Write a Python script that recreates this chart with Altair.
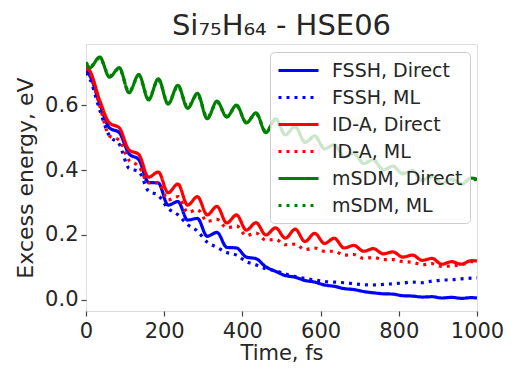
import altair as alt
import pandas as pd

time_fs = [0, 10, 35, 60, 85, 110, 135, 160, 185, 210, 235, 260, 285, 310, 335, 360,
           385, 410, 435, 460, 485, 510, 535, 560, 585, 610, 635, 660, 685, 710, 735,
           760, 785, 810, 835, 860, 885, 910, 935, 960, 985, 1000]

fssh_direct = [0.705, 0.690, 0.605, 0.530, 0.515, 0.450, 0.432, 0.362, 0.360, 0.292,
               0.303, 0.246, 0.251, 0.196, 0.208, 0.162, 0.160, 0.132, 0.127, 0.102,
               0.088, 0.075, 0.070, 0.060, 0.055, 0.046, 0.042, 0.035, 0.032, 0.026,
               0.022, 0.019, 0.018, 0.013, 0.012, 0.009, 0.010, 0.006, 0.008, 0.005,
               0.007, 0.006]
fssh_ml = [0.700, 0.680, 0.585, 0.505, 0.480, 0.405, 0.395, 0.335, 0.322, 0.282,
           0.262, 0.232, 0.212, 0.178, 0.162, 0.146, 0.138, 0.118, 0.108, 0.096,
           0.090, 0.080, 0.072, 0.066, 0.062, 0.057, 0.055, 0.053, 0.050, 0.047,
           0.046, 0.048, 0.050, 0.052, 0.055, 0.053, 0.058, 0.061, 0.062, 0.065,
           0.067, 0.068]
ida_direct = [0.718, 0.705, 0.615, 0.545, 0.530, 0.462, 0.448, 0.378, 0.394, 0.330,
              0.357, 0.292, 0.318, 0.262, 0.288, 0.237, 0.262, 0.215, 0.238, 0.200,
              0.222, 0.190, 0.218, 0.180, 0.205, 0.174, 0.190, 0.160, 0.168, 0.150,
              0.158, 0.142, 0.148, 0.132, 0.138, 0.122, 0.128, 0.110, 0.118, 0.110,
              0.121, 0.120]
ida_ml = [0.715, 0.698, 0.598, 0.505, 0.492, 0.430, 0.412, 0.360, 0.362, 0.308,
          0.318, 0.270, 0.278, 0.242, 0.248, 0.222, 0.228, 0.198, 0.206, 0.184,
          0.186, 0.170, 0.172, 0.155, 0.160, 0.150, 0.150, 0.138, 0.140, 0.128,
          0.131, 0.124, 0.124, 0.118, 0.116, 0.108, 0.112, 0.103, 0.105, 0.108,
          0.118, 0.118]
msdm_direct = [0.730, 0.715, 0.748, 0.686, 0.715, 0.638, 0.694, 0.616, 0.681, 0.603,
               0.661, 0.590, 0.636, 0.558, 0.612, 0.563, 0.600, 0.545, 0.576, 0.515,
               0.558, 0.508, 0.535, 0.485, 0.505, 0.465, 0.478, 0.440, 0.452, 0.420,
               0.432, 0.400, 0.412, 0.388, 0.398, 0.368, 0.382, 0.357, 0.372, 0.356,
               0.375, 0.372]
msdm_ml = [0.732, 0.718, 0.745, 0.690, 0.712, 0.642, 0.690, 0.620, 0.678, 0.606,
           0.658, 0.594, 0.632, 0.562, 0.608, 0.566, 0.596, 0.548, 0.572, 0.518,
           0.554, 0.510, 0.531, 0.488, 0.502, 0.468, 0.475, 0.443, 0.449, 0.423,
           0.429, 0.403, 0.409, 0.391, 0.395, 0.371, 0.379, 0.360, 0.369, 0.359,
           0.372, 0.370]

series_names = ["FSSH, Direct", "FSSH, ML", "ID-A, Direct", "ID-A, ML",
                "mSDM, Direct", "mSDM, ML"]
series_values = [fssh_direct, fssh_ml, ida_direct, ida_ml, msdm_direct, msdm_ml]
series_colors = ["#0000ff", "#0000ff", "#ff0000", "#ff0000", "#008000", "#008000"]
series_dash = [[1, 0], [3, 5], [1, 0], [3, 5], [1, 0], [3, 5]]

x_ticks = [0, 200, 400, 600, 800, 1000]
y_ticks = [0.0, 0.2, 0.4, 0.6]

rows = []
for name, vals in zip(series_names, series_values):
    for t, v in zip(time_fs, vals):
        rows.append({"t": t, "v": v, "series": name})
df = pd.DataFrame(rows)

FONT = "DejaVu Sans"
TXT = "#262626"

x_enc = alt.X("t:Q", scale=alt.Scale(domain=[0, 1000], nice=False),
              axis=alt.Axis(values=x_ticks, format="d", title="Time, fs", grid=False,
                            domain=False, tickSize=5, tickColor="#444", tickWidth=1.2,
                            labelFontSize=21, titleFontSize=21, labelFont=FONT,
                            titleFont=FONT, labelColor=TXT, titleColor=TXT,
                            titleFontWeight="normal", labelFlush=False,
                            labelPadding=4, titlePadding=1))
y_enc = alt.Y("v:Q", scale=alt.Scale(domain=[-0.034, 0.788], nice=False, zero=False),
              axis=alt.Axis(values=y_ticks, format=".1f", title="Excess energy, eV",
                            grid=False, domain=False, tickSize=5, tickColor="#444",
                            tickWidth=1.2, labelFontSize=21, titleFontSize=22,
                            labelFont=FONT, titleFont=FONT, labelColor=TXT,
                            titleColor=TXT, titleFontWeight="normal", labelPadding=3,
                            titlePadding=7))

legend = alt.Legend(title=None, orient="none", legendX=184, legendY=8,
                    symbolType="M-1,0H3", symbolSize=400, symbolStrokeWidth=3,
                    labelFontSize=19, labelFont=FONT, labelColor=TXT, labelOffset=32,
                    rowPadding=5, padding=7, fillColor="rgba(255,255,255,0.8)",
                    strokeColor="#cccccc", cornerRadius=4)

color_enc = alt.Color("series:N", scale=alt.Scale(domain=series_names, range=series_colors),
                      legend=legend)
dash_enc = alt.StrokeDash("series:N", scale=alt.Scale(domain=series_names, range=series_dash),
                          legend=legend)

layers = []
for name in series_names:
    layers.append(
        alt.Chart(df).transform_filter(alt.datum.series == name)
        .mark_line(strokeWidth=3.2, interpolate="monotone", clip=True, strokeCap="butt")
        .encode(x=x_enc, y=y_enc, color=color_enc, strokeDash=dash_enc)
    )

chart = alt.layer(*layers).properties(
    width=391, height=267,
    title=alt.TitleParams("Si₇₅H₆₄ - HSE06", fontSize=29, font=FONT,
                          fontWeight="normal", color=TXT, anchor="middle", offset=3),
    autosize=alt.AutoSizeParams(type="none"),
    padding={"left": 78, "top": 36, "right": 28, "bottom": 52},
).configure_view(stroke="#555", strokeWidth=1.2).configure(background="white")

chart.save("out.html", embed_options={"renderer": "svg", "actions": False})
